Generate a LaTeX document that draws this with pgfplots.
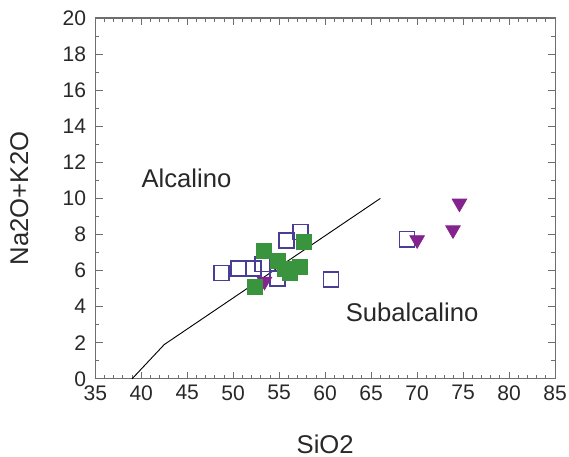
\documentclass[border=0pt]{standalone}
\usepackage{fontspec}
\setmainfont{Liberation Sans}
\usepackage{pgfplots}
\pgfplotsset{compat=1.18}
\usetikzlibrary{calc}
\definecolor{opensq}{RGB}{72,62,150}
\definecolor{greensq}{RGB}{58,148,62}
\definecolor{purptri}{RGB}{132,34,142}
\definecolor{axgray}{RGB}{110,110,110}
\definecolor{txtgray}{RGB}{40,40,40}
\begin{document}
\begin{tikzpicture}
\begin{axis}[
  name=ax,
  scale only axis,
  width=251pt, height=197pt,
  xmin=35, xmax=85, ymin=0, ymax=20,
  xtick={35,40,...,85}, ytick={0,2,...,20},
  minor x tick num=4, minor y tick num=1,
  tick align=inside,
  major tick length=4pt, minor tick length=2pt,
  axis line style={axgray, line width=0.6pt},
  every tick/.style={axgray, line width=0.5pt},
  tick label style={font=\fontsize{11.5}{13}\selectfont, text=txtgray},
  yticklabel style={xshift=-1.5pt},
  /pgf/number format/assume math mode=true,
  xlabel={SiO2}, ylabel={Na2O+K2O},
  label style={font=\fontsize{14}{16}\selectfont, text=txtgray},
  xlabel style={at={(rel axis cs:0.5,0)}, anchor=center, yshift=-35.5pt},
  ylabel style={at={(rel axis cs:0,0.5)}, anchor=center, yshift=41.5pt},
  clip=false,
]
% dividing line
\addplot[black, line width=0.5pt] coordinates {(39,0) (42.5,1.9) (66,10)};
% open squares
\addplot[only marks, mark=square, mark size=4.1pt, mark options={draw=opensq, line width=0.9pt, fill=white}] coordinates {
(48.7,5.86) (50.6,6.13) (52.2,6.13) (53.2,6.37) (54.8,5.55) (55.8,7.66) (57.3,8.14) (60.65,5.52) (68.9,7.74)};
% purple triangles
\addplot[only marks, mark=triangle*, mark size=4.6pt, mark options={rotate=180, draw=purptri, fill=purptri}] coordinates {
(53.4,5.4) (70.0,7.7) (73.9,8.25) (74.6,9.73)};
% green squares
\addplot[only marks, mark=square*, mark size=4.1pt, mark options={draw=greensq, fill=greensq}] coordinates {
(57.7,7.57) (53.3,7.09) (54.9,6.54) (55.6,6.1) (57.2,6.22) (56.2,5.86) (52.4,5.11)};
\node[anchor=west, font=\fontsize{14}{16}\selectfont, text=txtgray, inner sep=0pt] at (axis cs:40.0,11.1) {Alcalino};
\node[anchor=west, font=\fontsize{14}{16}\selectfont, text=txtgray, inner sep=0pt] at (axis cs:62.2,3.66) {Subalcalino};
\end{axis}
\pgfresetboundingbox
\path[use as bounding box] ($(ax.south west)+(-52pt,-42.6pt)$) rectangle ($(ax.north east)+(7.6pt,9.8pt)$);
\end{tikzpicture}
\end{document}
